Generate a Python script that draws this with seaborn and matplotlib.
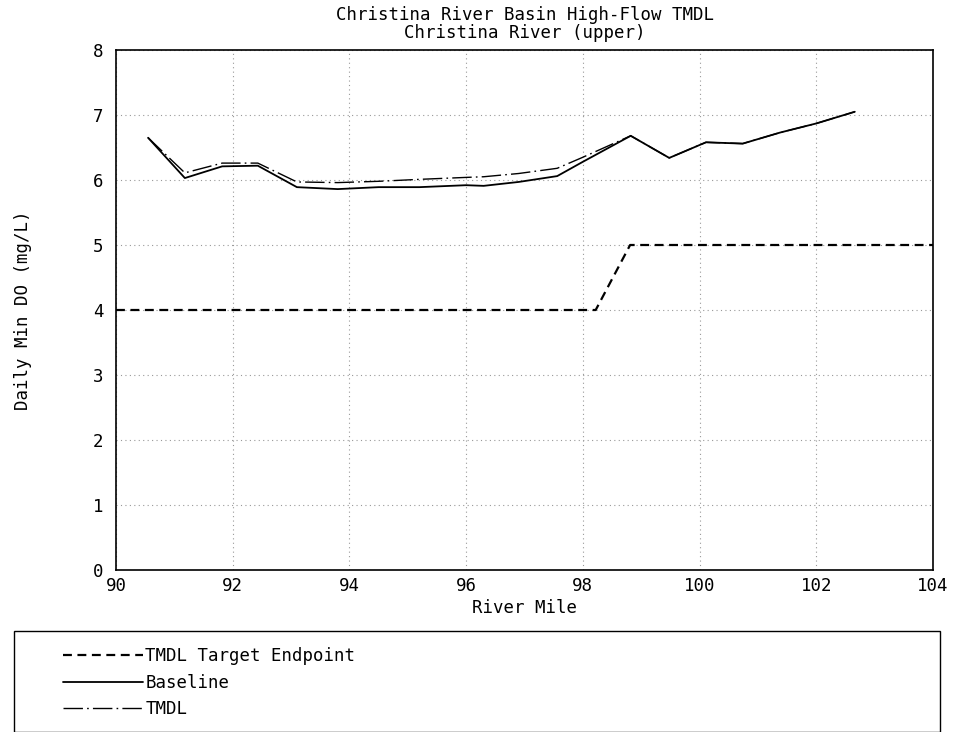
import matplotlib
matplotlib.use("Agg")
import matplotlib.pyplot as plt
from matplotlib.patches import Rectangle
import seaborn as sns
import pandas as pd

# River mile stations and daily minimum DO (mg/L)
river_mile = [90.55, 91.18, 91.82, 92.43, 93.10, 93.80, 94.50, 95.20, 96.00, 96.30,
              96.90, 97.56, 98.00, 98.82, 99.48, 100.11, 100.74, 101.38, 102.00, 102.66]
baseline_do = [6.65, 6.03, 6.21, 6.22, 5.89, 5.86, 5.89, 5.89, 5.92, 5.91,
               5.97, 6.06, 6.28, 6.68, 6.34, 6.58, 6.56, 6.73, 6.87, 7.05]
tmdl_do = [6.65, 6.11, 6.26, 6.26, 5.97, 5.96, 5.98, 6.01, 6.04, 6.05,
           6.10, 6.18, 6.35, 6.68, 6.34, 6.58, 6.56, 6.73, 6.87, 7.05]

# Target endpoint criterion
target_mile = [90.0, 98.22, 98.81, 104.0]
target_do = [4.0, 4.0, 5.0, 5.0]

x_ticks = [90, 92, 94, 96, 98, 100, 102, 104]
y_ticks = [0, 1, 2, 3, 4, 5, 6, 7, 8]

sns.set_style("white")
plt.rcParams["font.family"] = ["DejaVu Sans Mono", "DejaVu Sans"]
plt.rcParams["text.color"] = "black"
plt.rcParams["axes.labelcolor"] = "black"
FS = 12.5

W, H = 956, 732
fig = plt.figure(figsize=(W / 100, H / 100), dpi=100)
ax = fig.add_axes([116 / W, 1 - 570 / H, (933 - 116) / W, (570 - 50) / H])

df_base = pd.DataFrame({"mile": river_mile, "do": baseline_do})
df_tmdl = pd.DataFrame({"mile": river_mile, "do": tmdl_do})
df_target = pd.DataFrame({"mile": target_mile, "do": target_do})

sns.lineplot(data=df_target, x="mile", y="do", ax=ax, color="black", lw=1.6,
             linestyle=(0, (4, 2.5)), label="TMDL Target Endpoint", sort=False)
sns.lineplot(data=df_base, x="mile", y="do", ax=ax, color="black", lw=1.3,
             label="Baseline", sort=False)
sns.lineplot(data=df_tmdl, x="mile", y="do", ax=ax, color="black", lw=1.0,
             linestyle=(0, (14, 3, 1.2, 3)), label="TMDL", sort=False)

ax.set_xlim(90, 104)
ax.set_ylim(0, 8)
ax.set_xticks(x_ticks)
ax.set_yticks(y_ticks)
ax.set_xticklabels([str(t) for t in x_ticks])
ax.set_yticklabels([str(t) for t in y_ticks])
ax.grid(True, color="#999999", linestyle=(0, (1, 3)), lw=0.8)
ax.tick_params(direction="in", length=6, width=1, labelsize=FS, colors="black")
ax.tick_params(axis="y", pad=9)
ax.tick_params(axis="x", pad=5)
for s in ax.spines.values():
    s.set_color("black")
    s.set_linewidth(1.2)

ax.set_xlabel("River Mile", fontsize=FS, labelpad=3, color="black")
ax.set_ylabel("Daily Min DO (mg/L)", fontsize=FS, labelpad=44, color="black")
ax.set_title("Christina River Basin High-Flow TMDL\nChristina River (upper)",
             fontsize=FS, linespacing=1.0, pad=9, color="black")

handles, labels = ax.get_legend_handles_labels()
ax.get_legend().remove()

# Legend box below the plot
fig.patches.append(Rectangle((14 / W, 0.5 / H), (940 - 14) / W, (731 - 630) / H,
                             transform=fig.transFigure, fill=False,
                             edgecolor="black", lw=1.0))
leg = fig.legend(handles, labels, loc="upper left",
                 bbox_to_anchor=(63 / W, 1 - 647 / H), frameon=False,
                 fontsize=FS, handlelength=4.6, handletextpad=0.15,
                 labelspacing=0.5, borderaxespad=0, borderpad=0)
for t in leg.get_texts():
    t.set_color("black")

fig.savefig("out.png", dpi=100)
